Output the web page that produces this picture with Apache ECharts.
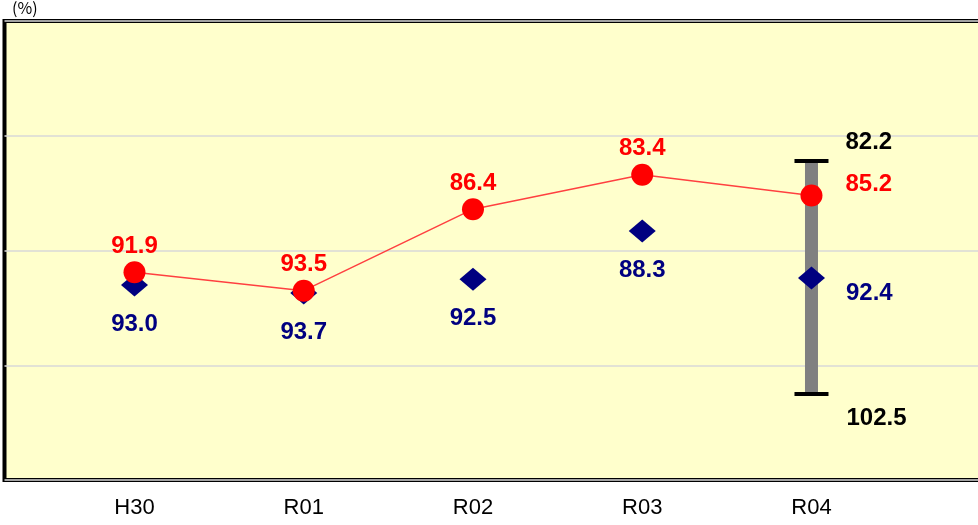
<!DOCTYPE html>
<html>
<head>
<meta charset="utf-8">
<script src="https://cdn.jsdelivr.net/npm/echarts@6/dist/echarts.min.js"></script>
<style>
  html, body { margin: 0; padding: 0; background: #fff; }
  #chart { width: 978px; height: 525px; }
</style>
</head>
<body>
<div id="chart"></div>
<script>
  // data
  const categories = ['H30', 'R01', 'R02', 'R03', 'R04'];
  const redValues = [91.9, 93.5, 86.4, 83.4, 85.2];
  const blueValues = [93.0, 93.7, 92.5, 88.3, 92.4];
  const rangeIndex = 4;
  const rangeLow = 82.2;
  const rangeHigh = 102.5;

  const FONT = '"Liberation Sans", Arial, sans-serif';
  const last = categories.length - 1;

  const chart = echarts.init(document.getElementById('chart'));

  const redData = redValues.map((v, i) => {
    const item = { value: [i, v] };
    if (i === last) {
      item.label = { position: 'right', distance: 23, offset: [0, -11] };
    }
    return item;
  });

  const blueData = blueValues.map((v, i) => {
    const item = { value: [i, v] };
    if (i === last) {
      item.label = { position: 'right', distance: 21, offset: [0, 15] };
    }
    return item;
  });

  const option = {
    animation: false,
    graphic: [
      {
        type: 'text',
        left: 12,
        top: 0,
        style: { text: '(%)', font: '16px "Noto Sans CJK JP", sans-serif', fill: '#000' },
      },
    ],
    grid: {
      left: 4.5,
      top: 21,
      bottom: 45,
      width: 1010, // runs past the right edge, as in the reference
      outerBoundsMode: 'none',
      containLabel: false,
      show: true,
      backgroundColor: '#FFFFCC',
      borderColor: '#000',
      borderWidth: 4,
    },
    xAxis: {
      type: 'value',
      min: -0.768,
      max: -0.768 + 1010 / 169.25,
      axisLine: { show: false },
      axisTick: { show: false },
      splitLine: { show: false },
      axisLabel: {
        customValues: categories.map((c, i) => i),
        formatter: (v) => categories[Math.round(v)] || '',
        margin: 17,
        fontSize: 22,
        fontFamily: FONT,
        color: '#000',
      },
    },
    yAxis: {
      type: 'value',
      inverse: true,
      min: 70,
      max: 110,
      interval: 10,
      axisLine: { show: false },
      axisTick: { show: false },
      axisLabel: { show: false },
      splitLine: { lineStyle: { color: '#d9d9d9', width: 1.5 } },
    },
    series: [
      {
        // error bar at R04
        type: 'custom',
        z: 2,
        data: [[rangeIndex, rangeLow, rangeHigh]],
        renderItem: (params, api) => {
          const top = api.coord([api.value(0), api.value(1)]);
          const bot = api.coord([api.value(0), api.value(2)]);
          const x = top[0];
          return {
            type: 'group',
            children: [
              {
                type: 'rect',
                shape: { x: x - 6.5, y: top[1], width: 13, height: bot[1] - top[1] },
                style: { fill: '#808080' },
              },
              {
                type: 'rect',
                shape: { x: x - 17, y: top[1] - 2, width: 34, height: 4 },
                style: { fill: '#000' },
              },
              {
                type: 'rect',
                shape: { x: x - 17, y: bot[1] - 2, width: 34, height: 4 },
                style: { fill: '#000' },
              },
              {
                type: 'text',
                x: x + 34,
                y: top[1] - 19,
                style: {
                  text: api.value(1).toFixed(1),
                  font: 'bold 24px ' + FONT,
                  fill: '#000',
                  verticalAlign: 'middle',
                },
              },
              {
                type: 'text',
                x: x + 35,
                y: bot[1] + 24,
                style: {
                  text: api.value(2).toFixed(1),
                  font: 'bold 24px ' + FONT,
                  fill: '#000',
                  verticalAlign: 'middle',
                },
              },
            ],
          };
        },
      },
      {
        type: 'scatter',
        z: 3,
        symbol: 'diamond',
        symbolSize: [27, 23],
        itemStyle: { color: '#000080', opacity: 1 },
        data: blueData,
        label: {
          show: true,
          position: 'bottom',
          distance: 16,
          formatter: (p) => p.value[1].toFixed(1),
          fontSize: 24,
          fontWeight: 'bold',
          fontFamily: FONT,
          color: '#000080',
        },
      },
      {
        type: 'line',
        z: 4,
        symbol: 'circle',
        symbolSize: 22,
        itemStyle: { color: '#FF0000' },
        lineStyle: { color: '#FF4040', width: 1.5 },
        data: redData,
        label: {
          show: true,
          position: 'top',
          distance: 3,
          formatter: (p) => p.value[1].toFixed(1),
          fontSize: 24,
          fontWeight: 'bold',
          fontFamily: FONT,
          color: '#FF0000',
        },
      },
    ],
  };

  chart.setOption(option);
</script>
</body>
</html>
